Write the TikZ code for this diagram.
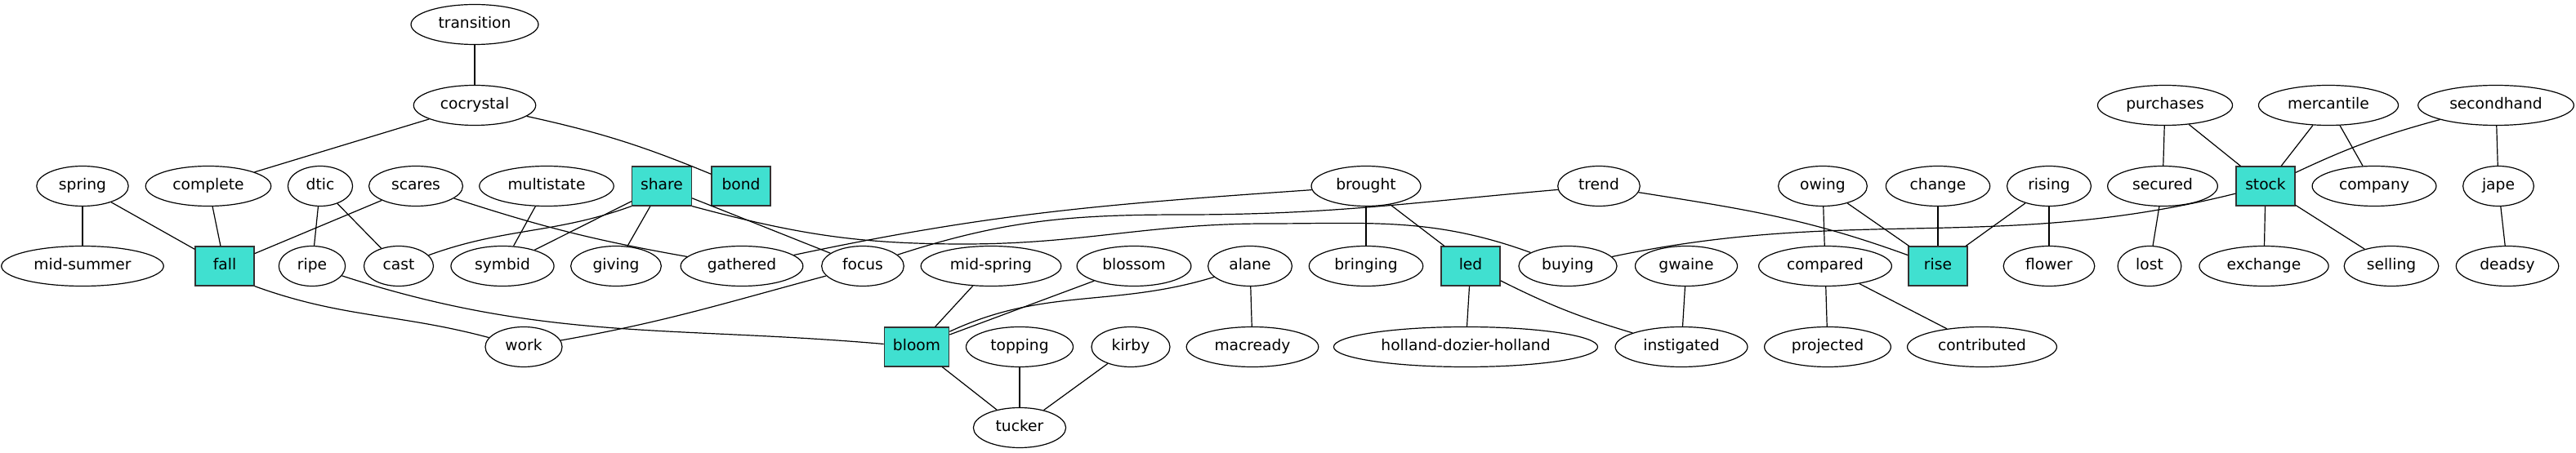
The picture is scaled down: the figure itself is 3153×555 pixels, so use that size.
\documentclass[tikz,border=0pt]{standalone}
\usepackage{fontspec}
\setmainfont{DejaVu Sans}
\usetikzlibrary{shapes.geometric}
\definecolor{hubfill}{HTML}{40E0D0}
\begin{document}
\begin{tikzpicture}[x=0.75pt,y=-0.75pt,line width=0.9pt,
  every node/.style={font=\fontsize{14pt}{17pt}\selectfont,text height=10.5pt,text depth=3pt,line width=0.9pt},
  word/.style={draw,ellipse,inner xsep=8pt,inner ysep=2pt,minimum width=54pt,minimum height=36.75pt},
  hub/.style={draw=black!80,rectangle,fill=hubfill,inner xsep=8pt,minimum width=54pt,minimum height=36pt}]
\useasboundingbox (0,0) rectangle (3153,555);
\foreach \n/\t/\x/\y in {transition/transition/581/30,
  cocrystal/cocrystal/581/129, purchases/purchases/2650/129, mercantile/mercantile/2850/129, secondhand/secondhand/3055/129,
  spring/spring/101/228, complete/complete/255/228, dtic/dtic/392/228, scares/scares/509/228, multistate/multistate/669/228,
  brought/brought/1672/228, trend/trend/1957/228, owing/owing/2231/228, change/change/2372/228, rising/rising/2508/228,
  secured/secured/2647/228, company/company/2906/228, jape/jape/3058/228,
  midsummer/mid-summer/101/326, ripe/ripe/382/326, cast/cast/488/326, symbid/symbid/615/326, giving/giving/754/326,
  gathered/gathered/908/326, focus/focus/1056/326, midspring/mid-spring/1213/326, blossom/blossom/1388/326, alane/alane/1530/326,
  bringing/bringing/1672/326, buying/buying/1919/326, gwaine/gwaine/2064/326, compared/compared/2234/326, flower/flower/2508/326,
  lost/lost/2631/326, exchange/exchange/2771/326, selling/selling/2927/326, deadsy/deadsy/3069/326,
  work/work/641/425, topping/topping/1248/425, kirby/kirby/1384/425, macready/macready/1533/425, hdh/holland-dozier-holland/1794/425,
  instigated/instigated/2058/425, projected/projected/2237/425, contributed/contributed/2426/425,
  tucker/tucker/1248/524}
  \node[word] (\n) at (\x,\y) {\t};
\foreach \n/\x/\y in {share/810/228, bond/907/228, stock/2773/228, fall/275/326, led/1800/326, rise/2372/326, bloom/1122/425}
  \node[hub] (\n) at (\x,\y) {\n};
\foreach \a/\b in {transition/cocrystal, cocrystal/complete, spring/midsummer, spring/fall, complete/fall, dtic/ripe, dtic/cast,
  scares/fall, multistate/symbid, share/symbid, share/giving, share/focus, brought/bringing, brought/led, midspring/bloom,
  blossom/bloom, alane/macready, bloom/tucker, topping/tucker, kirby/tucker, led/hdh, gwaine/instigated, owing/compared,
  owing/rise, change/rise, rising/rise, rising/flower, compared/projected, compared/contributed, purchases/secured,
  purchases/stock, mercantile/stock, mercantile/company, secondhand/jape, secured/lost, stock/exchange, stock/selling, jape/deadsy}
  \draw (\a) -- (\b);
\draw (cocrystal) to[bend left=5] (bond);
\draw (secondhand) to[bend right=5] (stock);
\draw (scares) to[bend right=4] (gathered);
\draw (share.south west) to[out=200,in=20] (cast);
\draw (share.south east) to[out=-15,in=180] (1180,299) to[out=0,in=180] (1550,274) to[out=0,in=160] (buying);
\draw (gathered) to[out=12,in=184] (brought);
\draw (focus) to[out=18,in=180] (1450,263) to[out=0,in=185] (trend);
\draw (buying) to[out=12,in=194] (stock);
\draw (trend) to[out=-9,in=160] (rise);
\draw (ripe) to[out=-18,in=175] (bloom);
\draw (alane) to[out=197,in=25] (bloom);
\draw (fall.south east) to[out=-20,in=165] (work);
\draw (focus) to[out=195,in=10] (work);
\draw (led) to[bend right=5] (instigated);
\end{tikzpicture}
\end{document}
